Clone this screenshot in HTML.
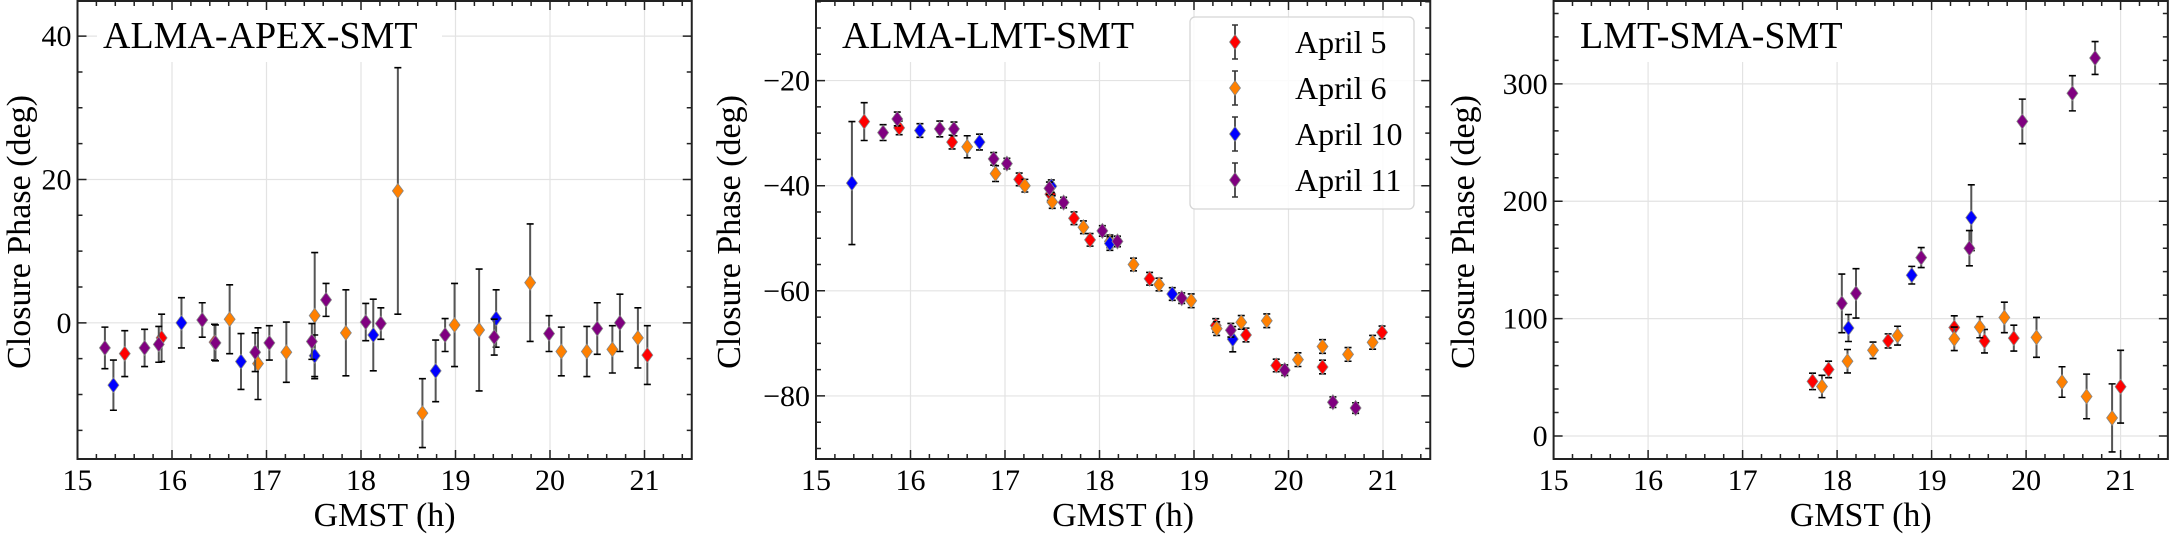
<!DOCTYPE html>
<html><head><meta charset="utf-8">
<style>
html,body{margin:0;padding:0;background:#fff;}
svg{display:block;font-family:"Liberation Serif","DejaVu Serif",serif;}
</style></head>
<body>
<svg id="chart" width="2170" height="536" viewBox="0 0 2170 536" xmlns="http://www.w3.org/2000/svg"></svg>
<script>
// ---------- Panel 1: ALMA-APEX-SMT ----------
const p1_a5_x = [15.50, 15.89, 16.45, 21.03];
const p1_a5_y = [-4.3, -2.1, -2.7, -4.5];
const p1_a5_e = [3.2, 3.3, 2.5, 4.1];
const p1_a6_x = [16.61, 16.91, 17.21, 17.51, 17.84, 18.39, 18.65, 18.99, 19.25, 19.79, 20.12, 20.39, 20.66, 20.93];
const p1_a6_y = [0.5, -5.7, -4.1, 1.0, -1.4, 18.4, -12.6, -0.3, -1.0, 5.6, -4.0, -4.0, -3.7, -2.1];
const p1_a6_e = [4.8, 5.0, 4.2, 8.8, 6.0, 17.2, 4.8, 5.8, 8.5, 8.2, 3.4, 3.5, 3.3, 4.2];
const p1_a10_x = [15.38, 16.10, 16.73, 17.51, 18.13, 18.79, 19.43];
const p1_a10_y = [-8.7, 0.0, -5.4, -4.6, -1.7, -6.7, 0.6];
const p1_a10_e = [3.5, 3.5, 3.9, 2.9, 5.0, 4.3, 4.0];
const p1_a11_x = [15.29, 15.71, 15.86, 16.32, 16.46, 16.88, 17.03, 17.48, 17.63, 18.05, 18.21, 18.89, 19.41, 19.99, 20.50, 20.74];
const p1_a11_y = [-3.5, -3.5, -3.0, 0.4, -2.8, -4.1, -2.8, -2.6, 3.2, 0.1, -0.1, -1.7, -2.0, -1.5, -0.8, 0.0];
const p1_a11_e = [2.9, 2.6, 2.5, 2.4, 2.5, 2.7, 2.4, 2.5, 2.3, 2.6, 2.2, 2.3, 2.5, 2.5, 3.6, 4.0];
const p1_yticks = [0, 20, 40];

// ---------- Panel 2: ALMA-LMT-SMT ----------
const p2_a5_x = [15.51, 15.88, 16.44, 17.15, 17.48, 17.73, 17.90, 18.53, 19.23, 19.55, 19.87, 20.36, 20.99];
const p2_a5_y = [-27.8, -29.0, -31.7, -38.8, -41.6, -46.2, -50.3, -57.7, -66.6, -68.4, -74.2, -74.5, -67.9];
const p2_a5_e = [3.6, 1.3, 1.3, 1.2, 1.2, 1.2, 1.2, 1.2, 1.3, 1.3, 1.2, 1.3, 1.2];
const p2_a6_x = [16.60, 16.90, 17.21, 17.50, 17.83, 18.11, 18.36, 18.63, 18.97, 19.24, 19.50, 19.77, 20.10, 20.36, 20.63, 20.89];
const p2_a6_y = [-32.6, -37.7, -40.0, -43.1, -47.9, -50.6, -55.0, -58.8, -61.9, -67.2, -66.0, -65.7, -73.1, -70.6, -72.1, -69.8];
const p2_a6_e = [2.1, 1.5, 1.2, 1.2, 1.2, 1.2, 1.2, 1.2, 1.3, 1.3, 1.3, 1.3, 1.3, 1.3, 1.3, 1.3];
const p2_a10_x = [15.38, 16.10, 16.73, 17.49, 18.11, 18.77, 19.41];
const p2_a10_y = [-39.5, -29.5, -31.7, -40.1, -51.0, -60.6, -69.2];
const p2_a10_e = [11.7, 1.3, 1.5, 1.2, 1.3, 1.2, 2.4];
const p2_a11_x = [15.71, 15.86, 16.31, 16.46, 16.88, 17.02, 17.47, 17.62, 18.03, 18.19, 18.87, 19.39, 19.96, 20.47, 20.71];
const p2_a11_y = [-29.9, -27.3, -29.2, -29.2, -34.9, -35.8, -40.5, -43.2, -48.6, -50.6, -61.4, -67.5, -75.1, -81.2, -82.3];
const p2_a11_e = [1.5, 1.3, 1.5, 1.3, 1.2, 1.0, 1.2, 1.0, 1.0, 1.0, 1.0, 1.3, 1.0, 1.0, 1.0];
const p2_yticks = [-80, -60, -40, -20];

// ---------- Panel 3: LMT-SMA-SMT ----------
const p3_a5_x = [17.74, 17.91, 18.54, 19.24, 19.56, 19.87, 21.00];
const p3_a5_y = [46.5, 56.7, 81, 92.4, 80.8, 83.4, 42];
const p3_a5_e = [7, 7, 6, 10, 10, 11, 31];
const p3_a6_x = [17.84, 18.11, 18.38, 18.64, 19.24, 19.51, 19.77, 20.11, 20.38, 20.64, 20.91];
const p3_a6_y = [42.2, 63.7, 73, 85.5, 82.8, 92.7, 101, 84, 46, 33.7, 15.4];
const p3_a6_e = [9.5, 10, 7, 8, 10, 9, 13, 17, 13, 19, 29];
const p3_a10_x = [18.12, 18.79, 19.42];
const p3_a10_y = [92, 137, 186];
const p3_a10_e = [11.5, 7.5, 28];
const p3_a11_x = [18.05, 18.20, 18.89, 19.40, 19.96, 20.49, 20.73];
const p3_a11_y = [113, 121.5, 152, 160, 268, 292, 322];
const p3_a11_e = [25, 21, 8.5, 15, 19, 15, 14];
const p3_yticks = [0, 100, 200, 300];

const xticks = [15, 16, 17, 18, 19, 20, 21];
const seriesNames = ["April 5", "April 6", "April 10", "April 11"];
const seriesColors = ["#ff0000", "#ff8000", "#0000ff", "#800080"];

const NS = "http://www.w3.org/2000/svg";
const svg = document.getElementById("chart");
function mk(tag, attrs, parent) {
  const e = document.createElementNS(NS, tag);
  for (const k in attrs) e.setAttribute(k, attrs[k]);
  (parent || svg).appendChild(e);
  return e;
}

function panel(cfg) {
  const g = mk("g", {});
  
  
  const L = cfg.left, R = cfg.left + 614.25, T = 1, B = 459;
  const xs = v => L + (v - 15) * 94.5;
  const ys = v => T + (cfg.ymax - v) / (cfg.ymax - cfg.ymin) * (B - T);
  xticks.forEach(t => {
    const l = mk("line", {x1: xs(t), x2: xs(t), y1: T, y2: B, stroke: "#e3e3e3", "stroke-width": 1.2}, g);
    
    
  });
  cfg.yticks.forEach(t => {
    const l = mk("line", {x1: L, x2: R, y1: ys(t), y2: ys(t), stroke: "#e3e3e3", "stroke-width": 1.2}, g);
    
    
  });
  const tb = mk("rect", {x: cfg.titleX - 6, y: 10, width: cfg.titleW, height: 52, fill: "#fff"}, g);
  
  
  const tt = mk("text", {x: cfg.titleX, y: 48, "font-size": 38, fill: "#000"}, g);
  tt.textContent = cfg.title;
  
  
  cfg.series.forEach((s, si) => {
    const sg = mk("g", {}, g);
    
    
    s.x.forEach((xv, i) => {
      const cx = xs(xv), cy = ys(s.y[i]);
      const y1 = ys(s.y[i] + s.e[i]), y2 = ys(s.y[i] - s.e[i]);
      const eb = mk("path", {d: `M${cx},${y1}V${y2}`, stroke: "#555", "stroke-width": 2, fill: "none"}, sg);
      
      
      const cap = mk("path", {d: `M${cx-3.5},${y1}H${cx+3.5}M${cx-3.5},${y2}H${cx+3.5}`, stroke: "#000", "stroke-width": 1.6, fill: "none"}, sg);
      
      
      const d = mk("path", {d: `M${cx},${cy-7.5}L${cx+5.5},${cy}L${cx},${cy+7.5}L${cx-5.5},${cy}Z`, fill: seriesColors[si], stroke: "#888", "stroke-width": 0.8}, sg);
      
      
    });
  });
  for (let k = 0; k <= 32; k++) {
    const v = 15 + k * 0.2, x = xs(v);
    const len = (k % 5 === 0) ? 9 : 5;
    const t = mk("path", {d: `M${x},${B}v${-len}M${x},${T}v${len}`, stroke: "#222", "stroke-width": 1.5}, g);
    
    
  }
  const m0 = Math.ceil(cfg.ymin / cfg.minor) * cfg.minor;
  for (let v = m0; v <= cfg.ymax; v += cfg.minor) {
    const y = ys(v);
    const major = cfg.yticks.some(t => Math.abs(t - v) < 1e-6);
    const len = major ? 9 : 5;
    const t = mk("path", {d: `M${L},${y}h${len}M${R},${y}h${-len}`, stroke: "#222", "stroke-width": 1.5}, g);
    
    
  }
  const fr = mk("rect", {x: L, y: T, width: R - L, height: B - T, fill: "none", stroke: "#222", "stroke-width": 2}, g);
  
  
  xticks.forEach(t => {
    const tx = mk("text", {x: xs(t), y: 490, "font-size": 30, "text-anchor": "middle"}, g);
    tx.textContent = String(t);
    
    
  });
  cfg.yticks.forEach(t => {
    const tx = mk("text", {x: L - 6, y: ys(t) + 10, "font-size": 30, "text-anchor": "end"}, g);
    tx.textContent = t < 0 ? "\u2212" + Math.abs(t) : String(t);
    
    
  });
  const xl = mk("text", {x: (L + R) / 2, y: 526, "font-size": 34, "text-anchor": "middle"}, g);
  xl.textContent = "GMST (h)";
  
  
  const yl = mk("text", {x: 0, y: 0, "font-size": 34, "text-anchor": "middle", transform: `translate(${cfg.ylabX},232) rotate(-90)`}, g);
  yl.textContent = "Closure Phase (deg)";
  
  
}

panel({name: "panel-alma-apex-smt", left: 77.5, ymin: -19.0, ymax: 44.9, yticks: p1_yticks, minor: 5,
  title: "ALMA-APEX-SMT", titleX: 103, titleW: 345, ylabX: 30,
  series: [{x: p1_a5_x, y: p1_a5_y, e: p1_a5_e}, {x: p1_a6_x, y: p1_a6_y, e: p1_a6_e},
           {x: p1_a10_x, y: p1_a10_y, e: p1_a10_e}, {x: p1_a11_x, y: p1_a11_y, e: p1_a11_e}]});
panel({name: "panel-alma-lmt-smt", left: 816, ymin: -92.0, ymax: -4.86, yticks: p2_yticks, minor: 5,
  title: "ALMA-LMT-SMT", titleX: 842, titleW: 325, ylabX: 740,
  series: [{x: p2_a5_x, y: p2_a5_y, e: p2_a5_e}, {x: p2_a6_x, y: p2_a6_y, e: p2_a6_e},
           {x: p2_a10_x, y: p2_a10_y, e: p2_a10_e}, {x: p2_a11_x, y: p2_a11_y, e: p2_a11_e}]});
panel({name: "panel-lmt-sma-smt", left: 1553.6, ymin: -19.6, ymax: 370.6, yticks: p3_yticks, minor: 20,
  title: "LMT-SMA-SMT", titleX: 1580, titleW: 290, ylabX: 1474,
  series: [{x: p3_a5_x, y: p3_a5_y, e: p3_a5_e}, {x: p3_a6_x, y: p3_a6_y, e: p3_a6_e},
           {x: p3_a10_x, y: p3_a10_y, e: p3_a10_e}, {x: p3_a11_x, y: p3_a11_y, e: p3_a11_e}]});

const lg = mk("g", {});


const lb = mk("rect", {x: 1190, y: 17, width: 224, height: 192, rx: 5, fill: "#fff", "fill-opacity": 0.85, stroke: "#d5d5d5", "stroke-width": 1.3}, lg);


seriesNames.forEach((n, i) => {
  const cy = 42 + i * 46, cx = 1235;
  const e = mk("g", {}, lg);
  
  
  mk("path", {d: `M${cx},${cy-17}V${cy+17}`, stroke: "#555", "stroke-width": 2, fill: "none"}, e);
  mk("path", {d: `M${cx-3},${cy-17}H${cx+3}M${cx-3},${cy+17}H${cx+3}`, stroke: "#333", "stroke-width": 1.4, fill: "none"}, e);
  mk("path", {d: `M${cx},${cy-7.5}L${cx+5.5},${cy}L${cx},${cy+7.5}L${cx-5.5},${cy}Z`, fill: seriesColors[i], stroke: "#888", "stroke-width": 0.8}, e);
  const t = mk("text", {x: 1295, y: cy + 11, "font-size": 32}, e);
  t.textContent = n;
  
  
});
</script>
</body></html>
